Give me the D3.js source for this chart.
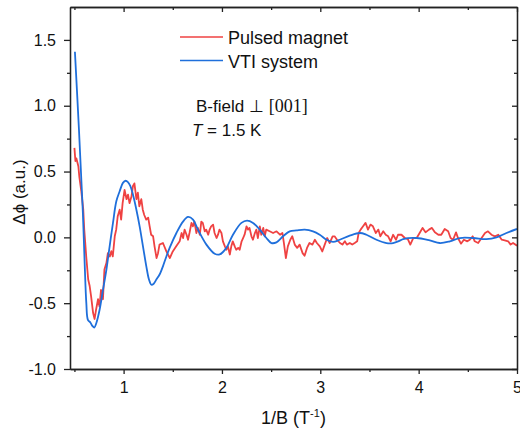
<!DOCTYPE html>
<html>
<head>
<meta charset="utf-8">
<script src="https://cdn.jsdelivr.net/npm/d3@7"></script>
<style>
    html, body { margin: 0; padding: 0; background: #fff; }
    svg { display: block; font-family: "Liberation Sans", Arial, sans-serif; }
</style>
</head>
<body>
<div class="chart-container"></div>
<script>
// Pulsed magnet trace (1/B in T^-1, delta phi in a.u.)
var pulsedX = [0.50, 0.51, 0.52, 0.54, 0.55, 0.57, 0.59, 0.60, 0.62, 0.64, 0.655, 0.67, 0.69, 0.705, 0.72, 0.74, 0.755, 0.77, 0.79, 0.805,
    0.825, 0.84, 0.86, 0.875, 0.89, 0.91, 0.925, 0.94, 0.96, 0.975, 0.99, 1.01, 1.03, 1.045, 1.06, 1.08, 1.095, 1.11, 1.13, 1.145,
    1.16, 1.18, 1.195, 1.21, 1.23, 1.25, 1.265, 1.28, 1.30, 1.315, 1.335, 1.35, 1.365, 1.40, 1.435, 1.47, 1.50, 1.535, 1.57, 1.59,
    1.605, 1.62, 1.64, 1.655, 1.67, 1.69, 1.705, 1.72, 1.74, 1.755, 1.775, 1.79, 1.805, 1.825, 1.84, 1.86, 1.875, 1.89, 1.91, 1.925,
    1.945, 1.96, 1.975, 1.995, 2.01, 2.03, 2.045, 2.06, 2.08, 2.095, 2.11, 2.13, 2.145, 2.165, 2.18, 2.20, 2.215, 2.23, 2.25, 2.265,
    2.28, 2.30, 2.315, 2.335, 2.35, 2.365, 2.385, 2.40, 2.42, 2.435, 2.45, 2.485, 2.52, 2.555, 2.59, 2.615, 2.63, 2.65, 2.67, 2.695,
    2.715, 2.74, 2.765, 2.79, 2.82, 2.84, 2.865, 2.89, 2.92, 2.945, 2.965, 2.995, 3.02, 3.045, 3.07, 3.095, 3.125, 3.145, 3.17, 3.20,
    3.225, 3.25, 3.27, 3.30, 3.325, 3.35, 3.375, 3.39, 3.41, 3.435, 3.46, 3.485, 3.51, 3.535, 3.565, 3.59, 3.61, 3.64, 3.665, 3.69,
    3.715, 3.74, 3.77, 3.79, 3.825, 3.86, 3.89, 3.915, 3.945, 3.98, 4.01, 4.04, 4.07, 4.105, 4.135, 4.165, 4.20, 4.23, 4.265, 4.30,
    4.325, 4.35, 4.38, 4.40, 4.43, 4.46, 4.495, 4.52, 4.55, 4.57, 4.605, 4.64, 4.675, 4.705, 4.74, 4.775, 4.81, 4.845, 4.875, 4.91,
    4.935, 4.96, 5.00];
var pulsedY = [0.68, 0.58, 0.60, 0.54, 0.46, 0.35, 0.21, 0.06, -0.145, -0.32, -0.37, -0.45, -0.575, -0.62, -0.55, -0.47, -0.525, -0.40, -0.47, -0.245,
    -0.195, -0.12, -0.145, -0.105, -0.145, 0.008, 0.06, 0.16, 0.21, 0.135, 0.26, 0.36, 0.29, 0.325, 0.26, 0.31, 0.39, 0.41, 0.29, 0.34,
    0.236, 0.29, 0.21, 0.17, 0.135, 0.15, 0.084, 0.02, 0.008, -0.07, -0.157, -0.12, -0.055, -0.043, -0.107, -0.157, -0.107, -0.068, -0.03, 0.033,
    -0.005, 0.059, 0.02, -0.018, 0.033, 0.11, 0.084, 0.12, 0.033, 0.072, 0.02, 0.12, 0.11, 0.046, 0.059, 0.02, 0.059, 0.084, 0.097, 0.033,
    -0.005, 0.02, 0.059, 0.033, -0.03, -0.068, -0.094, -0.068, -0.13, -0.068, -0.03, -0.068, -0.094, -0.08, -0.094, -0.03, -0.005, 0.02, 0.084, 0.059,
    0.072, 0.008, -0.018, 0.033, 0.059, -0.005, 0.084, 0.02, 0.072, 0.008, 0.059, 0.046, 0.033, 0.046, 0.02, 0.033, -0.043, -0.157, -0.068, -0.018,
    0.008, -0.055, -0.08, -0.055, -0.12, -0.14, -0.08, -0.043, -0.055, -0.018, -0.043, -0.068, -0.107, -0.055, -0.005, -0.043, 0.008, 0.008, -0.018, -0.043,
    -0.055, -0.03, -0.055, -0.043, -0.055, -0.043, -0.03, 0.033, 0.059, 0.084, 0.11, 0.059, 0.097, 0.084, 0.033, 0.059, 0.008, 0.046, 0.02, 0.008,
    -0.03, 0.02, -0.018, 0.02, 0.02, -0.005, -0.013, -0.055, -0.005, -0.005, 0.033, 0.072, 0.038, 0.059, 0.072, 0.038, 0.02, 0.02, 0.064, 0.046,
    -0.005, -0.018, 0.038, -0.005, -0.048, -0.018, -0.03, -0.018, 0.008, -0.03, -0.043, -0.005, 0.033, 0.046, 0.02, 0.008, 0.02, -0.018, -0.023, -0.03,
    -0.055, -0.043, -0.063];

// VTI system trace (smooth)
var vtiX = [0.505, 0.546, 0.570, 0.586, 0.604, 0.621, 0.637, 0.662, 0.682, 0.702, 0.723, 0.756, 0.790, 0.825, 0.858, 0.892, 0.926, 0.960, 0.993, 1.021,
    1.044, 1.069, 1.095, 1.130, 1.163, 1.197, 1.231, 1.258, 1.282, 1.306, 1.333, 1.360, 1.374, 1.400, 1.435, 1.468, 1.537, 1.604, 1.655, 1.706,
    1.756, 1.842, 1.926, 1.977, 2.045, 2.112, 2.198, 2.255, 2.316, 2.384, 2.452, 2.503, 2.554, 2.621, 2.689, 2.757, 2.842, 2.926, 2.994, 3.063,
    3.130, 3.198, 3.299, 3.401, 3.469, 3.571, 3.673, 3.740, 3.808, 3.842, 3.978, 4.113, 4.215, 4.317, 4.418, 4.554, 4.689, 4.791, 4.893, 5.00];
var vtiY = [1.41, 0.82, 0.44, 0.185, -0.195, -0.50, -0.626, -0.647, -0.672, -0.685, -0.65, -0.55, -0.40, -0.246, -0.068, 0.11, 0.274, 0.35, 0.414, 0.43,
    0.42, 0.39, 0.325, 0.21, 0.084, -0.068, -0.22, -0.32, -0.36, -0.352, -0.32, -0.29, -0.27, -0.22, -0.145, -0.08, 0.033, 0.12, 0.155, 0.135,
    0.059, -0.055, -0.124, -0.13, -0.08, 0.02, 0.11, 0.127, 0.11, 0.059, -0.005, -0.043, -0.038, 0.008, 0.046, 0.053, 0.059, 0.046, 0.02, -0.018,
    -0.035, -0.018, 0.013, 0.033, 0.02, -0.018, -0.043, -0.043, -0.025, -0.013, -0.005, -0.023, -0.043, -0.03, -0.005, -0.005, -0.013, 0.0, 0.033, 0.064];

// Axis ticks
var xMajorTicks = [1, 2, 3, 4, 5];
var xMinorTicks = [0.5, 1.5, 2.5, 3.5, 4.5];
var yMajorTicks = [-1.0, -0.5, 0.0, 0.5, 1.0, 1.5];
var yMinorTicks = [-0.75, -0.25, 0.25, 0.75, 1.25];

var seriesNames = ["Pulsed magnet", "VTI system"];
var seriesColors = ["#ef4242", "#1f6fdb"];

function renderChart() {
    var containerWidth = 520;
    var containerHeight = 431;
    var margin = {top: 7, right: 3, bottom: 62, left: 70};
    var width = containerWidth - margin.left - margin.right;
    var height = containerHeight - margin.top - margin.bottom;

    var svg = d3.select('.chart-container').append('svg')
        .attr('width', containerWidth)
        .attr('height', containerHeight);

    var g = svg.append('g')
        .attr('transform', 'translate(' + margin.left + ',' + margin.top + ')');

    var xScale = d3.scaleLinear().domain([0.455, 5]).range([0, width]);
    var yScale = d3.scaleLinear().domain([-1, 1.75]).range([height, 0]);

    // Clip the traces to the frame
    svg.append('defs').append('clipPath').attr('id', 'plot-clip')
        .append('rect').attr('width', width).attr('height', height);

    var traces = g.append('g').attr('clip-path', 'url(#plot-clip)');

    var pulsed = pulsedX.map(function(x, i) { return [x, pulsedY[i]]; });
    var vti = vtiX.map(function(x, i) { return [x, vtiY[i]]; });

    var linePulsed = d3.line()
        .x(function(d) { return xScale(d[0]); })
        .y(function(d) { return yScale(d[1]); });
    var lineVti = d3.line()
        .curve(d3.curveCatmullRom.alpha(0.5))
        .x(function(d) { return xScale(d[0]); })
        .y(function(d) { return yScale(d[1]); });

    traces.append('path').datum(pulsed)
        .attr('d', linePulsed)
        .attr('fill', 'none')
        .attr('stroke', seriesColors[0])
        .attr('stroke-width', 1.8)
        .attr('stroke-linejoin', 'round');

    traces.append('path').datum(vti)
        .attr('d', lineVti)
        .attr('fill', 'none')
        .attr('stroke', seriesColors[1])
        .attr('stroke-width', 1.8)
        .attr('stroke-linejoin', 'round');

    // Axes: labelled bottom/left with outward ticks, mirrored top/right with inward ticks
    var fmtY = function(d) { return d.toFixed(1); };

    function styleAxis(sel) {
        sel.select('.domain').attr('stroke', '#222').attr('stroke-width', 1.3);
        sel.selectAll('.tick line').attr('stroke', '#222').attr('stroke-width', 1.3);
        sel.selectAll('.tick text').attr('fill', '#111').style('font-size', '16px');
    }

    g.append('g').attr('transform', 'translate(0,' + height + ')')
        .call(d3.axisBottom(xScale).tickValues(xMajorTicks).tickSize(5).tickSizeOuter(0).tickPadding(8).tickFormat(d3.format('d')))
        .call(styleAxis);
    g.append('g').attr('transform', 'translate(0,' + height + ')')
        .call(d3.axisBottom(xScale).tickValues(xMinorTicks).tickSize(3).tickSizeOuter(0).tickFormat(''))
        .call(styleAxis);

    g.append('g')
        .call(d3.axisLeft(yScale).tickValues(yMajorTicks).tickSize(6).tickSizeOuter(0).tickPadding(8).tickFormat(fmtY))
        .call(styleAxis);
    g.append('g')
        .call(d3.axisLeft(yScale).tickValues(yMinorTicks).tickSize(3).tickSizeOuter(0).tickFormat(''))
        .call(styleAxis);

    g.append('g')
        .call(d3.axisTop(xScale).tickValues(xMajorTicks).tickSize(-5).tickSizeOuter(0).tickFormat(''))
        .call(styleAxis);
    g.append('g')
        .call(d3.axisTop(xScale).tickValues(xMinorTicks).tickSize(-3).tickSizeOuter(0).tickFormat(''))
        .call(styleAxis);

    g.append('g').attr('transform', 'translate(' + width + ',0)')
        .call(d3.axisRight(yScale).tickValues(yMajorTicks).tickSize(-5).tickSizeOuter(0).tickFormat(''))
        .call(styleAxis);
    g.append('g').attr('transform', 'translate(' + width + ',0)')
        .call(d3.axisRight(yScale).tickValues(yMinorTicks).tickSize(-3).tickSizeOuter(0).tickFormat(''))
        .call(styleAxis);

    // Axis titles
    var xTitle = svg.append('text')
        .attr('x', margin.left + width / 2)
        .attr('y', 424)
        .attr('text-anchor', 'middle')
        .style('font-size', '18px')
        .attr('fill', '#111');
    xTitle.append('tspan').text('1/B (T');
    xTitle.append('tspan').attr('dy', -7).style('font-size', '11px').text('-1');
    xTitle.append('tspan').attr('dy', 7).text(')');

    svg.append('text')
        .attr('transform', 'translate(25,' + (margin.top + height / 2 + 4) + ') rotate(-90)')
        .attr('text-anchor', 'middle')
        .style('font-size', '17px')
        .attr('fill', '#111')
        .text('\u0394\u03D5 (a.u.)');

    // Legend
    var legend = svg.append('g').attr('transform', 'translate(180,37)');
    seriesNames.forEach(function(name, i) {
        var row = legend.append('g').attr('transform', 'translate(0,' + (i * 23.5) + ')');
        row.append('line')
            .attr('x1', 0).attr('x2', 43)
            .attr('stroke', seriesColors[i])
            .attr('stroke-width', 1.6);
        row.append('text')
            .attr('x', 48).attr('y', 7)
            .style('font-size', '18px')
            .attr('fill', '#111')
            .text(name);
    });

    // Annotation
    var note1 = svg.append('text')
        .attr('x', 196).attr('y', 112)
        .style('font-size', '17px')
        .attr('fill', '#111');
    note1.append('tspan').text('B-field \u22A5 ');
    note1.append('tspan').style('font-family', '"Liberation Serif", "Times New Roman", serif').style('font-size', '18px').text('[001]');

    var note2 = svg.append('text')
        .attr('x', 192).attr('y', 136)
        .style('font-size', '17px')
        .attr('fill', '#111');
    note2.append('tspan').style('font-style', 'italic').text('T');
    note2.append('tspan').text(' = 1.5 K');
}

renderChart();
</script>
</body>
</html>
